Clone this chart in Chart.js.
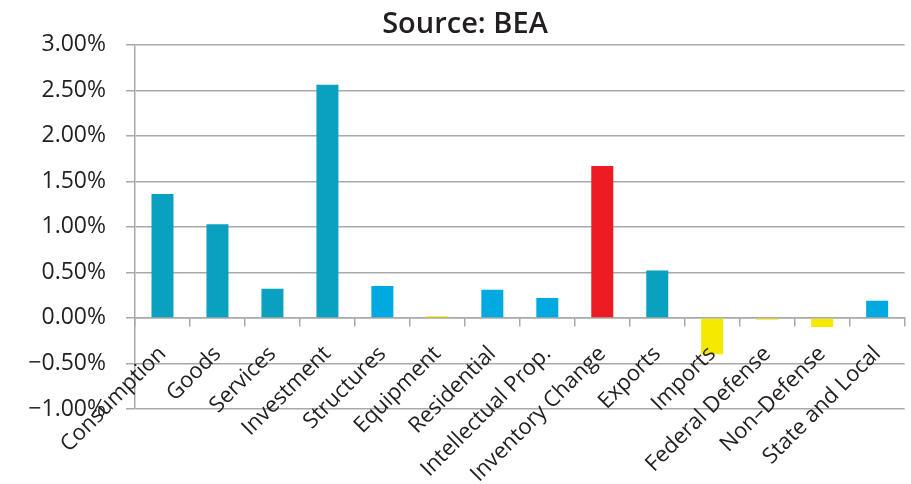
<!DOCTYPE html>
<html>
<head>
<meta charset="utf-8">
<script src="https://cdn.jsdelivr.net/npm/chart.js@4"></script>
<style>
  html, body { margin: 0; padding: 0; background: #fff; }
  #wrap { position: relative; width: 911px; height: 484px; }
</style>
</head>
<body>
<div id="wrap"><canvas id="bar-chart"></canvas></div>
<script>
  // kategori dan nilai kontribusi (persen)
  var categories = ['Consumption', 'Goods', 'Services', 'Investment', 'Structures', 'Equipment',
    'Residential', 'Intellectual Prop.', 'Inventory Change', 'Exports', 'Imports',
    'Federal Defense', 'Non\u2013Defense', 'State and Local'];
  var values = [1.36, 1.03, 0.32, 2.56, 0.35, 0.02, 0.31, 0.22, 1.67, 0.52, -0.40, -0.02, -0.10, 0.19];
  var yTicks = [-1.0, -0.5, 0, 0.5, 1.0, 1.5, 2.0, 2.5, 3.0];

  var teal = '#0aa0bf', blue = '#00a9e0', yellow = '#f5e900', red = '#ed1c24';
  var barColors = [teal, teal, teal, teal, blue, yellow, blue, blue, red, teal, yellow, yellow, yellow, blue];

  var txt = '#231f20';
  var grid = '#a9a9a9';

  new Chart(document.getElementById("bar-chart"), {
    type: 'bar',
    data: {
      labels: categories,
      datasets: [{
        data: values,
        backgroundColor: barColors,
        barPercentage: 0.4,
        categoryPercentage: 1.0
      }]
    },
    options: {
      responsive: true,
      maintainAspectRatio: false,
      animation: false,
      layout: {
        padding: { left: 24, right: 5, top: 0, bottom: 75 }
      },
      plugins: {
        legend: { display: false },
        tooltip: { enabled: false },
        title: {
          display: true,
          text: 'Source: BEA',
          color: txt,
          font: { family: 'Open Sans', size: 29, weight: '600' },
          padding: { top: 7, bottom: 3 }
        }
      },
      scales: {
        x: {
          position: { y: 0 },
          afterFit: function (axis) { axis.height = 0; },
          grid: {
            display: true,
            drawOnChartArea: false,
            drawTicks: true,
            tickLength: 8,
            color: grid,
            lineWidth: 1.5
          },
          border: { display: true, color: grid, width: 1.5 },
          ticks: {
            z: 1,
            color: txt,
            font: { family: 'Open Sans', size: 22 },
            minRotation: 45,
            maxRotation: 45,
            autoSkip: false,
            padding: 15
          }
        },
        y: {
          min: -1,
          max: 3,
          afterFit: function (axis) { axis.width = 111; },
          afterBuildTicks: function (axis) {
            axis.ticks = yTicks.map(function (v) { return { value: v }; });
          },
          grid: {
            color: grid,
            lineWidth: 1.5,
            tickLength: 9
          },
          border: { display: true, color: grid, width: 1.5 },
          ticks: {
            color: txt,
            font: { family: 'Open Sans', size: 23 },
            padding: 20,
            callback: function (v) { return v.toFixed(2).replace('-', '\u2212') + '%'; }
          }
        }
      }
    }
  });
</script>
</body>
</html>
